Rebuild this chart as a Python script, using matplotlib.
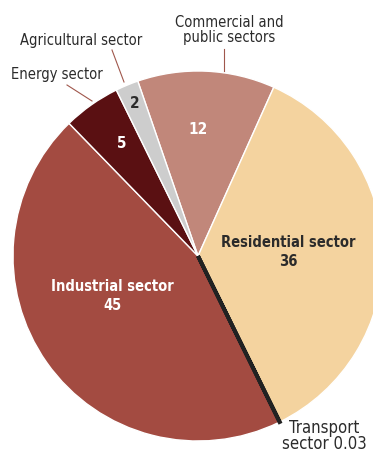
import numpy as np
import matplotlib.pyplot as plt

# shares of final energy consumption (%)
sectors = ["Commercial and\npublic sectors", "Residential sector", "Transport\nsector",
           "Industrial sector", "Energy sector", "Agricultural sector"]
values = [12, 36, 0.03, 45, 5, 2]
colors = ["#C1877A", "#F4D39F", "#222222", "#A34B41", "#5A1012", "#CDCDCD"]

W, H = 373, 452
FONT = ["DejaVu Sans"]
TXT = "#2b2b2b"

fig = plt.figure(figsize=(W / 100, H / 100), dpi=100)
ax = fig.add_axes([0, 0, 1, 1])

wedges, _ = ax.pie(values, colors=colors, startangle=109, counterclock=False,
                   center=(198, H - 257), radius=185,
                   wedgeprops=dict(edgecolor="white", linewidth=1.0))
ax.set_xlim(0, W)
ax.set_ylim(0, H)
ax.set_aspect("equal")
ax.axis("off")

# transport is too thin to see, draw it as a dark stroke like the original
wedges[2].set_edgecolor("#222222")
wedges[2].set_linewidth(2.8)
wedges[2].set_zorder(5)


def y(v):
    return H - v


kw = dict(ha="center", va="center", family=FONT, fontstretch="condensed")

# labels inside the slices
ax.text(198, y(130), "12", color="white", fontsize=11, fontweight="bold", **kw)
ax.text(122, y(144), "5", color="white", fontsize=11, fontweight="bold", **kw)
ax.text(135, y(104), "2", color=TXT, fontsize=11, fontweight="bold", **kw)
ax.text(288, y(252), "Residential sector\n36", color=TXT, fontsize=10.5,
        fontweight="bold", linespacing=1.35, **kw)
ax.text(112, y(296), "Industrial sector\n45", color="white", fontsize=10.5,
        fontweight="bold", linespacing=1.35, **kw)

# outside labels with leader lines
line_c = "#A0574C"
ax.text(229, y(30), "Commercial and\npublic sectors", color=TXT, fontsize=10.5,
        linespacing=0.95, **kw)
ax.plot([224, 224], [y(50), y(72)], color=line_c, lw=0.8)

ax.text(81, y(41), "Agricultural sector", color=TXT, fontsize=10.5, **kw)
ax.plot([112, 124], [y(51), y(83)], color=line_c, lw=0.8)

ax.text(57, y(75), "Energy sector", color=TXT, fontsize=10.5, **kw)
ax.plot([67, 92], [y(86), y(102)], color=line_c, lw=0.8)

ax.text(324, y(436), "Transport\nsector 0.03", color=TXT, fontsize=12,
        linespacing=0.85, **kw)

fig.savefig("out.png", dpi=100)
